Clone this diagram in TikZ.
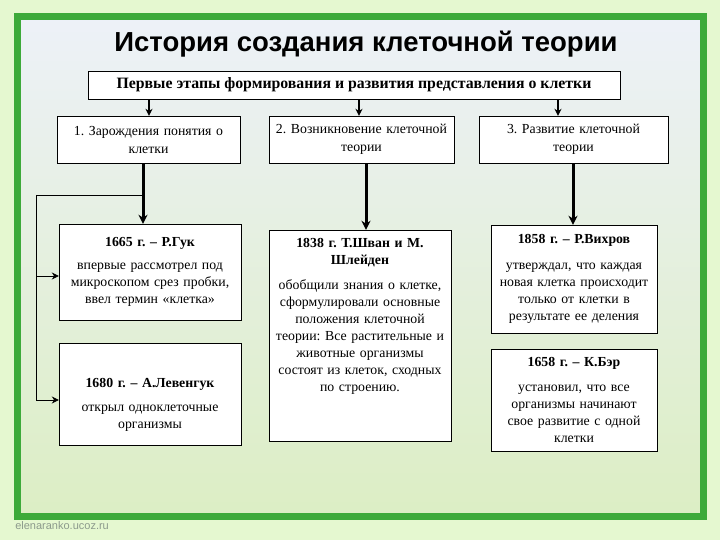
\documentclass[tikz,border=0pt]{standalone}
\usepackage{fontspec}
\setmainfont{Liberation Serif}
\setsansfont{Liberation Sans}
\usepackage{tikz}
\usepackage{xcolor}
\usetikzlibrary{positioning,arrows.meta}
\frenchspacing
\definecolor{pagegreen}{HTML}{E5F8D0}
\definecolor{framegreen}{HTML}{3DAA3A}
\definecolor{skyblue}{HTML}{EDF1F8}
\definecolor{grassgreen}{HTML}{DCEEC4}
\definecolor{markgray}{HTML}{8C9A8C}
\tikzstyle{stage} = [rectangle, draw, fill=white, thin, align=center, inner xsep=2pt, inner ysep=0pt, font=\fontsize{13.8}{18}\selectfont]
\tikzstyle{event} = [rectangle, draw, fill=white, thin, align=center, inner xsep=2pt, inner ysep=0pt, font=\fontsize{13.8}{17}\selectfont]
\tikzstyle{eventtext} = [align=center, inner sep=0pt, font=\fontsize{13.8}{17}\selectfont]

\begin{document}
\begin{tikzpicture}[->,>={Stealth[length=7pt,width=7pt]},x=1pt,y=-1pt,semithick]
  \useasboundingbox (0,0) rectangle (720,540);
  \fill[pagegreen] (0,0) rectangle (720,540);
  \shade[top color=skyblue, bottom color=grassgreen] (17,17) rectangle (703,516);
  \draw[-, framegreen, line width=7pt] (17,17) rectangle (703,516);

  \node[font=\fontsize{27.5}{30}\sffamily\bfseries] (title) at (366,44) {История создания клеточной теории};
  \node[font=\fontsize{11}{11}\sffamily, text=markgray, anchor=west, inner sep=0pt] (site) at (15,526) {elenaranko.ucoz.ru};

  \node[stage, font=\fontsize{15.8}{17}\selectfont\bfseries, minimum width=532, minimum height=28] (top) at (354,85) {Первые этапы формирования и развития представления о клетки};
  \node[stage, text width=179, minimum height=47] (first) at (148.5,139.5) {1. Зарождения понятия о\\клетки};
  \node[stage, text width=181, minimum height=47] (second) at (361.5,139.5) {2. Возникновение клеточной\\теории};
  \node[stage, text width=185, minimum height=47] (third) at (573.5,139.5) {3. Развитие клеточной\\теории};

  \node[event, text width=178, minimum height=96] (huk) at (150,272) {\textbf{1665 г. – Р.Гук}\\[6pt]впервые рассмотрел под\\микроскопом срез пробки,\\ввел термин «клетка»};
  \node[event, minimum width=182, minimum height=102] (leeuw) at (150,394) {};
  \node[eventtext, text width=178] (leeuwtext) at (150,405) {\textbf{1680 г. – А.Левенгук}\\[7pt]открыл одноклеточные\\организмы};
  \node[event, minimum width=182, minimum height=211] (shvan) at (360,335.5) {};
  \node[eventtext, text width=178, below=8pt of shvan.north] (shvantext) {\textbf{1838 г. Т.Шван и М.}\\\textbf{Шлейден}\\[8pt]обобщили знания о клетке,\\сформулировали основные\\положения клеточной\\теории: Все растительные и\\животные организмы\\состоят из клеток, сходных\\по строению.};
  \node[event, text width=162, minimum height=108] (virch) at (574,279) {\textbf{1858 г. – Р.Вихров}\\[9pt]утверждал, что каждая\\новая клетка происходит\\только от клетки в\\результате ее деления};
  \node[event, text width=162, minimum height=102] (baer) at (574,400) {\textbf{1658 г. – К.Бэр}\\[8pt]установил, что все\\организмы начинают\\свое развитие с одной\\клетки};

  % from the heading to the three stages
  \coordinate (in1) at ([xshift=0.5pt]first.north);
  \coordinate (in2) at ([xshift=-2.5pt]second.north);
  \coordinate (in3) at ([xshift=-15.5pt]third.north);
  \draw[line width=1.6pt] (top.south -| in1) -- (in1);
  \draw[line width=1.6pt] (top.south -| in2) -- (in2);
  \draw[line width=1.6pt] (top.south -| in3) -- (in3);

  % from the stages down to the discoveries
  \coordinate (out1) at ([xshift=-5.5pt]first.south);
  \coordinate (out2) at ([xshift=4.5pt]second.south);
  \coordinate (out3) at ([xshift=-0.5pt]third.south);
  \draw[line width=3pt, >={Stealth[length=9pt,width=9pt]}] (out1) -- (huk.north -| out1);
  \draw[line width=3pt, >={Stealth[length=9pt,width=9pt]}] (out2) -- (shvan.north -| out2);
  \draw[line width=3pt, >={Stealth[length=9pt,width=9pt]}] (out3) -- (virch.north -| out3);

  % side bracket
  \coordinate (brace) at (36,195);
  \coordinate (hukin) at ([yshift=-4pt]huk.west);
  \coordinate (leeuwin) at ([yshift=-6pt]leeuw.west);
  \draw[-, thick] (brace) -- (brace -| out1);
  \draw[thick] (brace) |- (leeuwin);
  \draw[thick] (brace |- hukin) -- (hukin);
\end{tikzpicture}
\end{document}
